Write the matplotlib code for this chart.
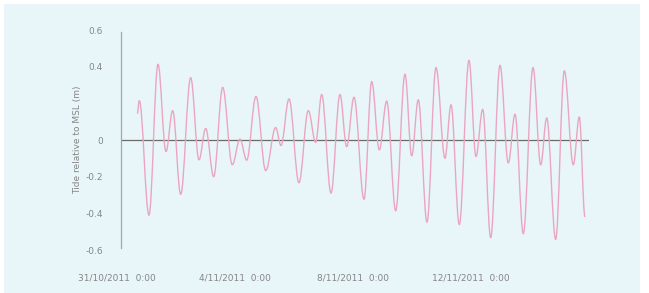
import matplotlib
matplotlib.use("Agg")
import matplotlib.pyplot as plt
from matplotlib.path import Path
from matplotlib.patches import PathPatch

# Tidal extrema: time in days since 31/10/2011 0:00, level (m)
days = [0.688, 0.756, 1.085, 1.390, 1.661, 1.888, 2.159, 2.498, 2.780, 3.007,
        3.278, 3.583, 3.908, 4.169, 4.397, 4.712, 5.041, 5.380, 5.559, 5.831,
        6.169, 6.485, 6.736, 6.939, 7.254, 7.559, 7.786, 8.034, 8.373, 8.634,
        8.892, 9.142, 9.447, 9.763, 9.990, 10.214, 10.508, 10.814, 11.119, 11.322,
        11.603, 11.932, 12.169, 12.397, 12.668, 12.983, 13.264, 13.492, 13.773, 14.102,
        14.363, 14.566, 14.871, 15.163, 15.468, 15.671, 15.864]
levels = [0.144, 0.215, -0.410, 0.413, -0.063, 0.160, -0.296, 0.340, -0.108, 0.063,
          -0.200, 0.287, -0.135, 0.005, -0.110, 0.238, -0.167, 0.068, -0.030, 0.224,
          -0.233, 0.160, -0.013, 0.248, -0.290, 0.248, -0.036, 0.233, -0.323, 0.319,
          -0.054, 0.212, -0.386, 0.359, -0.086, 0.219, -0.448, 0.395, -0.099, 0.192,
          -0.461, 0.434, -0.090, 0.167, -0.533, 0.407, -0.125, 0.140, -0.511, 0.395,
          -0.135, 0.120, -0.542, 0.377, -0.135, 0.126, -0.420]

tick_days = [0, 4, 8, 12]
tick_labels = ["31/10/2011  0:00", "4/11/2011  0:00", "8/11/2011  0:00", "12/11/2011  0:00"]
ytick_vals = [0.6, 0.4, 0, -0.2, -0.4, -0.6]
ytick_labels = ["0.6", "0.4", "0", "-0.2", "-0.4", "-0.6"]

bg = "#e9f6f9"
line_col = "#eaa6c0"
text_col = "#858585"

fig = plt.figure(figsize=(6.49, 2.93), dpi=100, facecolor="white")
fig.patches.append(plt.Rectangle((4 / 649, 0), 636 / 649, 289 / 293,
                                 transform=fig.transFigure, facecolor=bg,
                                 edgecolor="none", zorder=-10))
ax = fig.add_axes([121 / 649, 43 / 293, 468 / 649, 220 / 293])
ax.set_facecolor("none")

# smooth curve through extrema (horizontal tangents at turning points)
verts = [(days[0], levels[0])]
codes = [Path.MOVETO]
k = 0.363
for i in range(1, len(days)):
    t0, y0 = days[i - 1], levels[i - 1]
    t1, y1 = days[i], levels[i]
    dt = t1 - t0
    verts += [(t0 + k * dt, y0), (t1 - k * dt, y1), (t1, y1)]
    codes += [Path.CURVE4] * 3
ax.add_patch(PathPatch(Path(verts, codes), facecolor="none", edgecolor=line_col,
                       lw=1.0, zorder=3))

ax.set_xlim(0.136, 16.0)
ax.set_ylim(-0.6, 0.6)

for s in ["top", "right", "bottom"]:
    ax.spines[s].set_visible(False)
ax.spines["left"].set_color("#a6a6a6")
ax.spines["left"].set_linewidth(0.9)
ax.spines["left"].set_bounds(-0.59, 0.59)
ax.axhline(0, color="#6a6a6a", lw=0.9, zorder=2)

ax.set_yticks(ytick_vals)
ax.set_yticklabels(ytick_labels)
ax.tick_params(axis="y", length=0, pad=13, labelsize=6.5, labelcolor=text_col)
ax.set_xticks([])
for d, lab in zip(tick_days, tick_labels):
    ax.annotate(lab, xy=(d, 0), xycoords=("data", "figure fraction"),
                xytext=(0, 11), textcoords="offset points", ha="center",
                va="center", fontsize=6.5, color=text_col)
ax.set_ylabel("Tide relative to MSL (m)", fontsize=6.5, color=text_col, labelpad=2)

fig.savefig("out.png", dpi=100, facecolor="white")
